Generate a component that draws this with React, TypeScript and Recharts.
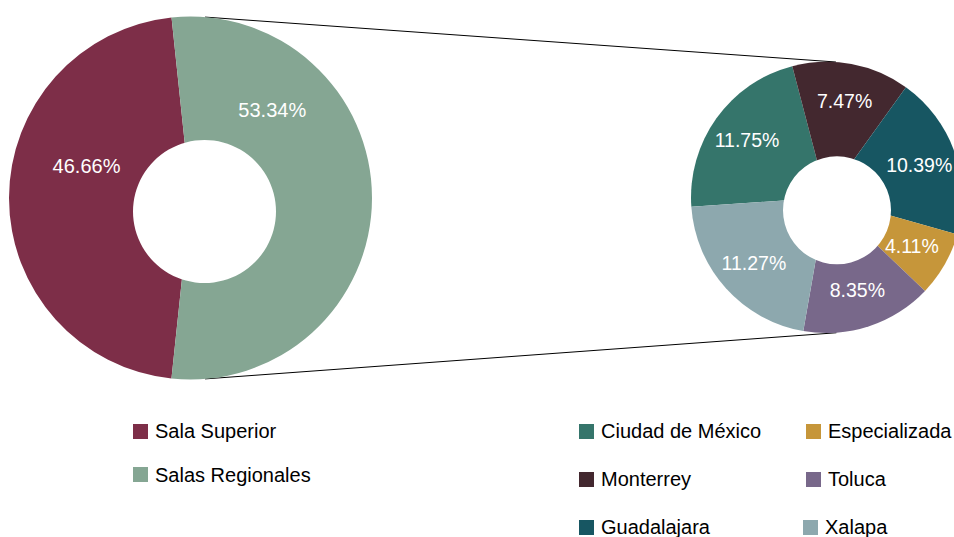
import React from 'react';
import { PieChart, Pie, Cell, Customized } from 'recharts';

// ---------- data ----------
const mainCategories = ['Sala Superior', 'Salas Regionales'];
const mainValues = [46.66, 53.34];
const mainColors = ['#7D2E48', '#85A693'];

const regionCategories = ['Ciudad de México', 'Monterrey', 'Guadalajara', 'Especializada', 'Toluca', 'Xalapa'];
const regionValues = [11.75, 7.47, 10.39, 4.11, 8.35, 11.27];
const regionColors = ['#35756B', '#43282F', '#175662', '#C6963A', '#78688A', '#8DA8AE'];

const holeData = [{ name: 'hole', value: 1 }];

// ---------- layout ----------
const W = 954;
const H = 537;
const FONT = '"Liberation Sans", Arial, Helvetica, sans-serif';
const RAD = Math.PI / 180;

const MAIN = { cx: 190.5, cy: 198, r: 181.5 };
const MAIN_HOLE = { cx: 204.5, cy: 211.5, r: 71.5 };
const SUB = { cx: 826.7, cy: 197.4, r: 135.7 };
const SUB_HOLE = { cx: 837, cy: 210.3, r: 54 };

const mainLabelPlacement = [
  { angle: 163.0, radius: 108.7 },
  { angle: 47.0, radius: 119.9 },
];
const SUB_LABEL_RADIUS = 98;

const connectorAngles = [
  { from: 85.4, to: 86.1 },
  { from: -85.4, to: -85.9 },
];

const mainData = mainCategories.map((name, i) => ({ name, value: mainValues[i] }));
const regionData = regionCategories.map((name, i) => ({ name, value: regionValues[i] }));

const polar = (c: { cx: number; cy: number }, r: number, a: number) => ({
  x: c.cx + r * Math.cos(a * RAD),
  y: c.cy - r * Math.sin(a * RAD),
});

const renderMainLabel = (props: any) => {
  const { index } = props;
  const p = mainLabelPlacement[index];
  const pt = polar(MAIN, p.radius, p.angle);
  return (
    <text
      key={`ml-${index}`}
      x={pt.x}
      y={pt.y}
      fill="#ffffff"
      textAnchor="middle"
      dominantBaseline="central"
      fontSize={20}
      fontFamily={FONT}
    >
      {mainValues[index].toFixed(2)}%
    </text>
  );
};

const renderSubLabel = (props: any) => {
  const { index, midAngle } = props;
  const pt = polar(SUB, SUB_LABEL_RADIUS, midAngle);
  return (
    <text
      key={`sl-${index}`}
      x={pt.x}
      y={pt.y}
      fill="#ffffff"
      textAnchor="middle"
      dominantBaseline="central"
      fontSize={19.5}
      fontFamily={FONT}
    >
      {regionValues[index].toFixed(2)}%
    </text>
  );
};

const Connectors = () => (
  <g>
    {connectorAngles.map((c, i) => {
      const a = polar(MAIN, MAIN.r, c.from);
      const b = polar(SUB, SUB.r, c.to);
      return <line key={i} x1={a.x} y1={a.y} x2={b.x} y2={b.y} stroke="#000" strokeWidth={1} />;
    })}
  </g>
);

const LegendItem = ({ color, label }: { color: string; label: string }) => (
  <div style={{ display: 'flex', alignItems: 'center', height: 20 }}>
    <div style={{ width: 15, height: 15, background: color, marginRight: 7, flexShrink: 0 }} />
    <span style={{ fontSize: 20, lineHeight: '20px', color: '#000', whiteSpace: 'nowrap' }}>{label}</span>
  </div>
);

export default function App() {
  const col1 = [0, 1, 2];
  const col2 = [3, 4, 5];
  return (
    <div
      style={{
        position: 'absolute',
        left: 0,
        top: 0,
        width: W,
        height: H,
        overflow: 'hidden',
        background: '#fff',
        fontFamily: FONT,
      }}
    >
      <PieChart
        width={W}
        height={H}
        margin={{ top: 0, right: 0, bottom: 0, left: 0 }}
        style={{ position: 'absolute', left: 0, top: 0 }}
      >
        <Pie
          data={mainData}
          dataKey="value"
          nameKey="name"
          cx={MAIN.cx}
          cy={MAIN.cy}
          innerRadius={0}
          outerRadius={MAIN.r}
          startAngle={96}
          endAngle={456}
          stroke="none"
          label={renderMainLabel}
          labelLine={false}
          isAnimationActive={false}
        >
          {mainData.map((d, i) => (
            <Cell key={d.name} fill={mainColors[i]} stroke="none" />
          ))}
        </Pie>
        <Pie
          data={holeData}
          dataKey="value"
          cx={MAIN_HOLE.cx}
          cy={MAIN_HOLE.cy}
          innerRadius={0}
          outerRadius={MAIN_HOLE.r}
          fill="#ffffff"
          stroke="none"
          isAnimationActive={false}
        />
        <Pie
          data={regionData}
          dataKey="value"
          nameKey="name"
          cx={SUB.cx}
          cy={SUB.cy}
          innerRadius={0}
          outerRadius={SUB.r}
          startAngle={184}
          endAngle={-176}
          stroke="none"
          label={renderSubLabel}
          labelLine={false}
          isAnimationActive={false}
        >
          {regionData.map((d, i) => (
            <Cell key={d.name} fill={regionColors[i]} stroke="none" />
          ))}
        </Pie>
        <Pie
          data={holeData}
          dataKey="value"
          cx={SUB_HOLE.cx}
          cy={SUB_HOLE.cy}
          innerRadius={0}
          outerRadius={SUB_HOLE.r}
          fill="#ffffff"
          stroke="none"
          isAnimationActive={false}
        />
        <Customized component={Connectors} />
      </PieChart>

      {/* Left legend */}
      <div style={{ position: 'absolute', left: 133, top: 421 }}>
        <LegendItem color={mainColors[0]} label={mainCategories[0]} />
        <div style={{ height: 23.7 }} />
        <LegendItem color={mainColors[1]} label={mainCategories[1]} />
      </div>

      {/* Right legend col 1 */}
      <div style={{ position: 'absolute', left: 579, top: 421 }}>
        {col1.map((i, k) => (
          <div key={i} style={{ marginTop: k === 0 ? 0 : 28 }}>
            <LegendItem color={regionColors[i]} label={regionCategories[i]} />
          </div>
        ))}
      </div>

      {/* Right legend col 2 */}
      <div style={{ position: 'absolute', left: 806, top: 421 }}>
        {col2.map((i, k) => (
          <div key={i} style={{ marginTop: k === 0 ? 0 : 28, marginLeft: k === 2 ? -3 : 0 }}>
            <LegendItem color={regionColors[i]} label={regionCategories[i]} />
          </div>
        ))}
      </div>
    </div>
  );
}
